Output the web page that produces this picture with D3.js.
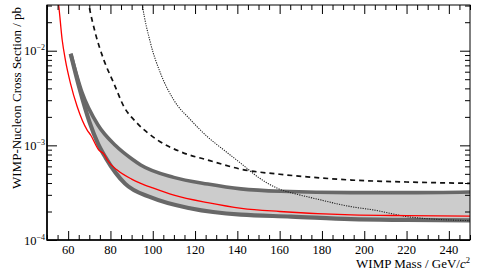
<!DOCTYPE html>
<html><head><meta charset="utf-8">
<script src="https://cdn.jsdelivr.net/npm/d3@7"></script>
<style>body{margin:0;background:#fff}svg{display:block}text{font-family:"Liberation Serif","DejaVu Serif",serif;fill:#000}</style>
</head><body>
<svg id="c" width="479" height="276"></svg>
<script>
// ---- data ----
const xTickValues = [60, 80, 100, 120, 140, 160, 180, 200, 220, 240];
const yTickExponents = [-4, -3, -2];

const redMass = [54.6, 55.5, 57.2, 58.7, 61.1, 64.3, 69, 70.6, 74.5, 76.9, 78.5, 83.2, 90, 94.3, 100, 110, 126, 142, 160, 194, 220, 250];
const redSigma = [4.2e-2, 3.04e-2, 1.29e-2, 7.96e-3, 4.52e-3, 2.56e-3, 1.45e-3, 1.29e-3, 8.9e-4, 8.1e-4, 7.0e-4, 5.48e-4, 4.4e-4, 3.97e-4, 3.55e-4, 2.98e-4, 2.48e-4, 2.16e-4, 2.0e-4, 1.84e-4, 1.81e-4, 1.79e-4];

const dashMass = [69.3, 69.8, 72.9, 76.9, 81.6, 86.4, 92.7, 102.2, 113.2, 127, 141.7, 160, 173, 194, 220, 250];
const dashSigma = [3.5e-2, 3.04e-2, 1.52e-2, 7.96e-3, 4.52e-3, 2.56e-3, 1.71e-3, 1.14e-3, 8.55e-4, 6.9e-4, 5.6e-4, 4.95e-4, 4.65e-4, 4.3e-4, 4.1e-4, 3.97e-4];

const dotMass = [94.7, 95.1, 99, 103.7, 110, 118, 125.9, 133.7, 141.7, 149.6, 159, 168, 176.4, 193.8, 204.8, 220.7, 250];
const dotSigma = [3.5e-2, 3.04e-2, 1.19e-2, 5.75e-3, 3.0e-3, 1.85e-3, 1.23e-3, 8.9e-4, 6.45e-4, 4.65e-4, 3.51e-4, 3.05e-4, 2.75e-4, 2.25e-4, 2.07e-4, 1.76e-4, 1.6e-4];

const bandUpperMass = [61.2, 66.5, 74.1, 82.4, 90.5, 94.3, 109.9, 126, 141.7, 160.6, 193.8, 222, 250];
const bandUpperSigma = [9.3e-3, 3.65e-3, 1.64e-3, 9.95e-4, 7.08e-4, 6.2e-4, 4.59e-4, 3.9e-4, 3.47e-4, 3.27e-4, 3.17e-4, 3.17e-4, 3.22e-4];

const bandLowerMass = [61.2, 65.45, 70.1, 74.1, 77.7, 86.9, 99.5, 118.2, 141.7, 165.4, 193.8, 220, 250];
const bandLowerSigma = [9.3e-3, 3.94e-3, 1.76e-3, 1.045e-3, 7.43e-4, 3.94e-4, 2.8e-4, 2.15e-4, 1.85e-4, 1.77e-4, 1.66e-4, 1.63e-4, 1.61e-4];

// ---- layout ----
const L = 47, R = 470, T = 5, B = 240;
const svg = d3.select("#c");
const x = d3.scaleLinear().domain([50, 250]).range([L, R]);
const y = d3.scaleLog().domain([1e-4, 3.04e-2]).range([B, T]);

const zip = (m, s) => m.map((v, i) => [v, s[i]]);
const line = d3.line().x(d => x(d[0])).y(d => y(d[1])).curve(d3.curveMonotoneX);

svg.append("clipPath").attr("id", "clip").append("rect")
  .attr("x", L).attr("y", T).attr("width", R - L).attr("height", B - T);
const g = svg.append("g").attr("clip-path", "url(#clip)");

const U = zip(bandUpperMass, bandUpperSigma);
const Lo = zip(bandLowerMass, bandLowerSigma);
const fillPath = line(U) + "L" + line(Lo.slice().reverse()).slice(1) + "Z";
g.append("path").attr("d", fillPath).attr("fill", "#cccccc").attr("stroke", "none");
g.append("path").attr("d", line(U)).attr("fill", "none").attr("stroke", "#686868").attr("stroke-width", 3.6).attr("stroke-linejoin", "round");
g.append("path").attr("d", line(Lo)).attr("fill", "none").attr("stroke", "#686868").attr("stroke-width", 4.2).attr("stroke-linejoin", "round");

g.append("path").attr("d", line(zip(dotMass, dotSigma))).attr("fill", "none")
  .attr("stroke", "#222").attr("stroke-width", 1.1).attr("stroke-dasharray", "1.2,1.2");
g.append("path").attr("d", line(zip(dashMass, dashSigma))).attr("fill", "none")
  .attr("stroke", "#111").attr("stroke-width", 1.7).attr("stroke-dasharray", "5,4");
g.append("path").attr("d", line(zip(redMass, redSigma))).attr("fill", "none")
  .attr("stroke", "#ff0000").attr("stroke-width", 1.3);

// ---- axes ----
const xMinor = d3.range(50, 251, 5).filter(v => v % 20 !== 0);
const yMinor = [];
for (let e = -4; e <= -2; e++) for (let k = 2; k <= 9; k++) { const v = k * Math.pow(10, e); if (v <= 3.04e-2) yMinor.push(v); }
const yMajor = yTickExponents.map(e => Math.pow(10, e));

const ax = svg.append("g").attr("stroke", "#000");
ax.append("g").attr("transform", `translate(0,${B})`).call(d3.axisBottom(x).tickValues(xTickValues).tickSizeInner(-9).tickSizeOuter(0).tickFormat(""));
ax.append("g").attr("transform", `translate(0,${B})`).call(d3.axisBottom(x).tickValues(xMinor).tickSizeInner(-5).tickSizeOuter(0).tickFormat(""));
ax.append("g").attr("transform", `translate(0,${T})`).call(d3.axisTop(x).tickValues(xTickValues).tickSizeInner(-9).tickSizeOuter(0).tickFormat(""));
ax.append("g").attr("transform", `translate(0,${T})`).call(d3.axisTop(x).tickValues(xMinor).tickSizeInner(-5).tickSizeOuter(0).tickFormat(""));
ax.append("g").attr("transform", `translate(${L},0)`).call(d3.axisLeft(y).tickValues(yMajor).tickSizeInner(-10).tickSizeOuter(0).tickFormat(""));
ax.append("g").attr("transform", `translate(${L},0)`).call(d3.axisLeft(y).tickValues(yMinor).tickSizeInner(-5).tickSizeOuter(0).tickFormat(""));
ax.append("g").attr("transform", `translate(${R},0)`).call(d3.axisRight(y).tickValues(yMajor).tickSizeInner(-10).tickSizeOuter(0).tickFormat(""));
ax.append("g").attr("transform", `translate(${R},0)`).call(d3.axisRight(y).tickValues(yMinor).tickSizeInner(-5).tickSizeOuter(0).tickFormat(""));
svg.selectAll(".domain").remove();
svg.selectAll(".tick line").attr("stroke", "#000").attr("stroke-width", 1);

// frame
svg.append("rect").attr("x", L).attr("y", T).attr("width", R - L).attr("height", B - T)
  .attr("fill", "none").attr("stroke", "#000").attr("stroke-width", 1);
svg.append("line").attr("x1", L).attr("x2", L).attr("y1", T).attr("y2", B + 0.5).attr("stroke", "#000").attr("stroke-width", 1.6);
svg.append("line").attr("x1", L).attr("x2", R).attr("y1", B).attr("y2", B).attr("stroke", "#000").attr("stroke-width", 1.6);

// tick labels
svg.append("g").selectAll("text").data(xTickValues).join("text")
  .attr("x", d => x(d)).attr("y", B + 13.5).attr("text-anchor", "middle")
  .attr("font-size", 12.5).text(d => d);

const yl = svg.append("g").selectAll("text").data(yTickExponents).join("text")
  .attr("x", 45).attr("y", d => y(Math.pow(10, d)) + 4.5).attr("text-anchor", "end").attr("font-size", 12.5);
yl.append("tspan").text("10");
yl.append("tspan").attr("dy", -5).attr("font-size", 8).text(d => "\u2212" + (-d));

// axis titles
svg.append("text").attr("transform", `translate(21,${T + 2}) rotate(-90)`).attr("text-anchor", "end")
  .attr("font-size", 13).text("WIMP-Nucleon Cross Section / pb");
const xt = svg.append("text").attr("x", 470).attr("y", 268).attr("text-anchor", "end").attr("font-size", 13);
xt.append("tspan").text("WIMP Mass / GeV/");
xt.append("tspan").attr("font-style", "italic").text("c");
xt.append("tspan").attr("dy", -5).attr("font-size", 8.5).text("2");
</script>
</body></html>
